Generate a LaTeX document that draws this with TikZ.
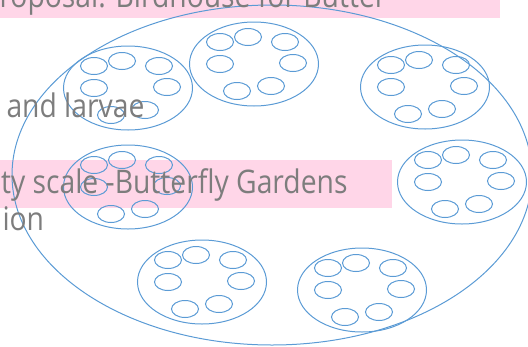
\documentclass[tikz,border=0pt]{standalone}
\usepackage{fontspec}
\setmainfont{Open Sans}[FakeStretch=0.87]
\usetikzlibrary{shapes.geometric}
\definecolor{slideblue}{RGB}{91,155,213}
\definecolor{slidepink}{RGB}{255,214,232}
\definecolor{slidegray}{RGB}{125,125,125}

\tikzset{
  garden/.style={draw=slideblue, ellipse, minimum width=129pt, minimum height=84pt, inner sep=0pt},
  nest/.style={draw=slideblue, ellipse, minimum width=27pt, minimum height=17pt, inner sep=0pt},
  slidetext/.style={text=slidegray, font=\fontsize{32.5}{37}\selectfont, inner sep=0pt}
}

\begin{document}
\begin{tikzpicture}[x=1pt,y=-1pt,line width=1pt]
\useasboundingbox (0,0) rectangle (528,346);
\clip (0,0) rectangle (528,346);
% highlighted lines of the slide
\fill[slidepink] (0,-5) rectangle (500,18);
\fill[slidepink] (0,160) rectangle (392,208);
% the park
\draw[slideblue] (272,175) ellipse [x radius=260, y radius=170];
% gardens with their nests
\foreach \name/\x/\y in {g1/128/88, g2/254/64, g3/425/87, g4/462/182, g5/128/187, g6/202/282, g7/362/290} {
  \node[garden] (\name) at (\x,\y) {};
  \foreach \n/\dx/\dy in {a/-34/-22, b/-6/-27, c/31/-22, d/-34/0, e/39/-1, f/-17/27, g/17/22} {
    \node[nest] (\name\n) at ([shift={(\dx,\dy)}]\name.center) {};
  }
}
% slide text
\node[slidetext, anchor=base west] (title) at (-1,7) {roposal: Birdhouse for Butter};
\node[slidetext, anchor=base west] (larvae) at (6,117) {and larvae};
\node[slidetext, anchor=base east] (gardens) at (348,193) {ty scale -Butterfly Gardens};
\node[slidetext, anchor=base west] (ion) at (2,230) {ion};
\end{tikzpicture}
\end{document}
